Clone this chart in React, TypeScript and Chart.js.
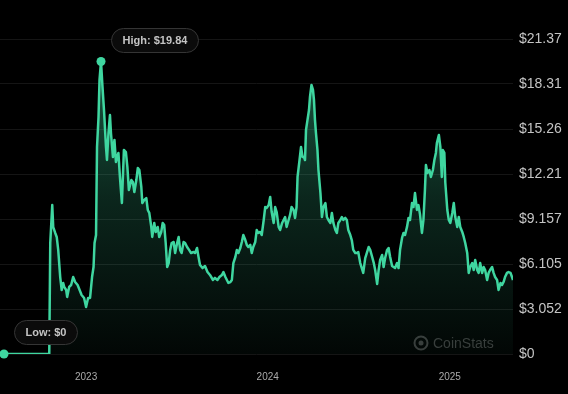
import { useEffect, useRef } from 'react';
import { Chart, registerables } from 'chart.js';

Chart.register(...registerables);

// Days counted from 2023-01-01
const days = [
  -165, -74, -72, -68, -66, -62, -59, -56, -52, -49,
  -46, -44, -40, -38, -34, -30, -26, -22, -17, -13,
  -9, -4, 0, 4, 8, 12, 15, 17, 20, 22,
  25, 27, 30, 33, 36, 40, 42, 45, 48, 50,
  54, 57, 60, 65, 68, 72, 76, 80, 83, 86,
  91, 94, 97, 101, 104, 107, 111, 113, 117, 121,
  124, 127, 131, 133, 137, 140, 144, 147, 151, 154,
  157, 160, 163, 166, 169, 172, 176, 179, 183, 186,
  189, 192, 196, 199, 203, 207, 211, 216, 219, 223,
  226, 229, 234, 239, 244, 249, 255, 259, 264, 268,
  273, 276, 280, 283, 286, 290, 293, 296, 300, 303,
  306, 310, 313, 316, 320, 323, 326, 330, 333, 336,
  340, 343, 346, 350, 353, 357, 360, 363, 367, 370,
  373, 377, 380, 383, 387, 390, 394, 397, 400, 403,
  407, 410, 413, 417, 420, 423, 425, 429, 432, 435,
  438, 440, 442, 445, 448, 450, 453, 456, 458, 460,
  462, 465, 467, 471, 474, 477, 481, 484, 487, 491,
  494, 497, 501, 504, 507, 511, 514, 517, 521, 524,
  527, 531, 534, 537, 541, 544, 547, 551, 557, 561,
  568, 571, 575, 578, 581, 585, 588, 591, 595, 598,
  601, 605, 608, 611, 615, 618, 621, 625, 628, 631,
  635, 638, 641, 645, 648, 651, 655, 658, 661, 665,
  668, 671, 675, 678, 681, 683, 686, 690, 693, 697,
  700, 703, 705, 709, 712, 715, 717, 720, 722, 726,
  729, 732, 736, 739, 742, 746, 749, 752, 756, 759,
  762, 766, 769, 772, 776, 779, 782, 786, 789, 792,
  796, 799, 802, 806, 809, 812, 816, 819, 822, 826,
  829, 833, 836, 839, 842, 846, 849, 853, 856, 858,
];

const prices = [
  0, 0, 7.53, 10.11, 8.6, 8.21, 7.94, 7.06, 5.22, 4.34,
  4.82, 4.55, 4.34, 3.87, 4.55, 4.68, 5.22, 4.88, 4.68, 4.34,
  4.0, 3.8, 3.19, 3.8, 3.8, 5.22, 5.9, 7.53, 8.07, 14.04,
  16.08, 18.59, 19.84, 18.11, 16.55, 14.04, 13.16, 14.99, 16.21, 14.99,
  13.36, 14.52, 13.03, 13.64, 12.01, 10.24, 13.84, 13.7, 12.69, 11.13,
  11.8, 11.67, 10.99, 11.8, 12.62, 12.48, 11.33, 10.24, 10.45, 10.58,
  9.77, 9.57, 8.62, 7.94, 8.89, 8.28, 8.62, 7.94, 8.28, 8.89,
  8.75, 7.53, 5.9, 6.17, 7.06, 7.53, 7.6, 6.85, 7.53, 7.94,
  7.06, 6.85, 7.6, 7.53, 7.26, 7.06, 6.85, 6.92, 6.85, 7.19,
  6.58, 6.04, 5.83, 5.97, 5.56, 5.36, 5.02, 5.16, 5.02, 5.22,
  5.36, 5.56, 5.22, 5.02, 4.82, 4.88, 5.02, 6.17, 6.58, 7.06,
  6.85, 7.19, 7.6, 8.07, 7.73, 7.4, 7.26, 7.4, 6.85, 7.26,
  7.6, 8.41, 8.21, 8.28, 8.07, 9.09, 9.97, 9.91, 10.11, 10.65,
  9.63, 8.89, 9.97, 9.63, 8.62, 8.41, 8.89, 9.09, 9.29, 8.62,
  9.09, 9.43, 9.97, 9.77, 9.23, 9.97, 12.01, 13.16, 14.04, 13.36,
  13.36, 13.16, 15.2, 15.88, 16.55, 17.44, 18.25, 17.91, 17.23, 15.88,
  14.99, 13.84, 12.48, 10.92, 9.29, 9.97, 10.24, 9.29, 9.09, 8.89,
  9.57, 8.89, 8.41, 8.21, 8.89, 9.09, 9.29, 9.09, 9.23, 9.09,
  8.41, 8.07, 7.73, 7.06, 6.85, 6.85, 6.92, 6.17, 5.5, 6.5,
  7.26, 7.06, 6.58, 6.2, 5.7, 4.75, 5.7, 6.38, 6.72, 5.9,
  6.51, 7.06, 7.19, 6.6, 5.97, 5.9, 5.83, 6.17, 5.83, 7.06,
  7.87, 8.21, 8.07, 8.62, 9.23, 9.09, 10.24, 9.97, 10.92, 9.77,
  10.1, 9.5, 8.21, 9.1, 11.13, 12.82, 12.28, 12.48, 12.01, 12.48,
  13.16, 13.64, 14.31, 14.86, 14.04, 12.01, 13.84, 13.64, 11.6, 9.77,
  9.09, 8.89, 9.57, 10.24, 9.29, 8.62, 9.29, 8.62, 8.28, 7.94,
  7.53, 6.85, 5.5, 5.9, 6.17, 5.7, 6.38, 5.7, 5.5, 6.17,
  5.5, 5.9, 5.7, 5.02, 5.5, 5.7, 5.9, 5.5, 5.22, 5.02,
  4.34, 4.82, 4.68, 4.88, 5.22, 5.5, 5.56, 5.5, 5.22, 5.02,
];

const xTickDays = [0, 365, 731];
const xTickLabels = ['2023', '2024', '2025'];
const xMin = -173;
const xMax = 858;

const yMax = 21.367;
const yTickLabels = ['$0', '$3.052', '$6.105', '$9.157', '$12.21', '$15.26', '$18.31', '$21.37'];

const LINE = '#3fd6a0';
const FONT = "'Liberation Sans', Arial, Helvetica, sans-serif";

function pill(c: CanvasRenderingContext2D, x: number, y: number, w: number, h: number) {
  const r = h / 2;
  c.beginPath();
  c.moveTo(x + r, y);
  c.lineTo(x + w - r, y);
  c.arc(x + w - r, y + r, r, -Math.PI / 2, Math.PI / 2);
  c.lineTo(x + r, y + h);
  c.arc(x + r, y + r, r, Math.PI / 2, (3 * Math.PI) / 2);
  c.closePath();
}

export default function App() {
  const ref = useRef<HTMLCanvasElement>(null);

  useEffect(() => {
    document.documentElement.style.background = '#000';
    document.body.style.margin = '0';
    document.body.style.background = '#000';
    const canvas = ref.current;
    if (!canvas) return;

    const points = days.map((d, i) => ({ x: d, y: prices[i] }));
    let hi = 0;
    let lo = 0;
    prices.forEach((p, i) => {
      if (p > prices[hi]) hi = i;
      if (p < prices[lo]) lo = i;
    });
    const fmt = (v: number) => '$' + String(+v.toFixed(2));

    const watermark = {
      id: 'watermark',
      beforeDatasetsDraw(chart: any) {
        const c = chart.ctx;
        c.save();
        c.strokeStyle = '#383838';
        c.lineWidth = 2;
        c.beginPath();
        c.arc(421, 343, 6.5, 0, Math.PI * 2);
        c.stroke();
        c.fillStyle = '#383838';
        c.beginPath();
        c.arc(421, 343, 2.5, 0, Math.PI * 2);
        c.fill();
        c.font = `14px ${FONT}`;
        c.textAlign = 'left';
        c.textBaseline = 'middle';
        c.fillText('CoinStats', 433, 344);
        c.restore();
      },
    };

    const markers = {
      id: 'markers',
      afterDatasetsDraw(chart: any) {
        const c = chart.ctx as CanvasRenderingContext2D;
        const xs = chart.scales.x;
        const ys = chart.scales.y;
        const items: [number, string][] = [
          [hi, 'High: '],
          [lo, 'Low: '],
        ];
        items.forEach(([idx, label]) => {
          const px = xs.getPixelForValue(days[idx]);
          const py = ys.getPixelForValue(prices[idx]);
          c.save();
          c.fillStyle = LINE;
          c.beginPath();
          c.arc(px, py, 4.5, 0, Math.PI * 2);
          c.fill();
          const text = label + fmt(prices[idx]);
          c.font = `bold 11px ${FONT}`;
          const w = Math.round(c.measureText(text).width + 22);
          const h = 24;
          const left = Math.round(px + 10) + 0.5;
          const top = Math.round(py - 22 - h / 2) + 0.5;
          pill(c, left, top, w, h);
          c.fillStyle = '#0b0b0b';
          c.fill();
          c.strokeStyle = '#353535';
          c.lineWidth = 1;
          c.stroke();
          c.fillStyle = '#c4c4c4';
          c.textAlign = 'center';
          c.textBaseline = 'middle';
          c.fillText(text, left + w / 2, top + h / 2 + 0.5);
          c.restore();
        });
      },
    };

    const chart = new Chart(canvas, {
      type: 'line',
      data: {
        datasets: [
          {
            data: points,
            borderColor: LINE,
            borderWidth: 2.5,
            borderJoinStyle: 'round',
            pointRadius: 0,
            tension: 0,
            fill: 'origin',
            backgroundColor: (ctx: any) => {
              const area = ctx.chart.chartArea;
              if (!area) return 'rgba(63,214,160,0.2)';
              const g = ctx.chart.ctx.createLinearGradient(0, area.top, 0, area.bottom);
              g.addColorStop(0, 'rgba(63,214,160,0.45)');
              g.addColorStop(0.5, 'rgba(63,214,160,0.18)');
              g.addColorStop(1, 'rgba(63,214,160,0.03)');
              return g;
            },
          },
        ],
      },
      options: {
        animation: false,
        responsive: false,
        devicePixelRatio: 1,
        parsing: false,
        normalized: true,
        layout: { padding: { top: 39, left: 0, right: 0, bottom: 10 } },
        plugins: {
          legend: { display: false },
          tooltip: { enabled: false },
        },
        scales: {
          x: {
            type: 'linear',
            min: xMin,
            max: xMax,
            grid: { display: false, drawTicks: false },
            border: { display: false },
            afterBuildTicks: (s: any) => {
              s.ticks = xTickDays.map((v) => ({ value: v }));
            },
            afterFit: (s: any) => {
              s.height = 30;
            },
            ticks: {
              autoSkip: false,
              maxRotation: 0,
              padding: 17,
              color: '#aaaaaa',
              font: { family: FONT, size: 10 },
              callback: (_v: any, i: number) => xTickLabels[i],
            },
          },
          y: {
            position: 'right',
            min: 0,
            max: yMax,
            grid: { color: '#151515', lineWidth: 1, drawTicks: false },
            border: { display: false },
            afterBuildTicks: (s: any) => {
              s.ticks = yTickLabels.map((_, i) => ({ value: (i * yMax) / 7 }));
            },
            afterFit: (s: any) => {
              s.width = 55;
            },
            ticks: {
              padding: 6,
              color: '#c4c4c4',
              font: { family: FONT, size: 14 },
              callback: (_v: any, i: number) => yTickLabels[i],
            },
          },
        },
      },
      plugins: [watermark, markers],
    } as any);

    return () => chart.destroy();
  }, []);

  return (
    <div style={{ width: 568, height: 394, background: '#000' }}>
      <canvas ref={ref} width={568} height={394} style={{ display: 'block' }} />
    </div>
  );
}
